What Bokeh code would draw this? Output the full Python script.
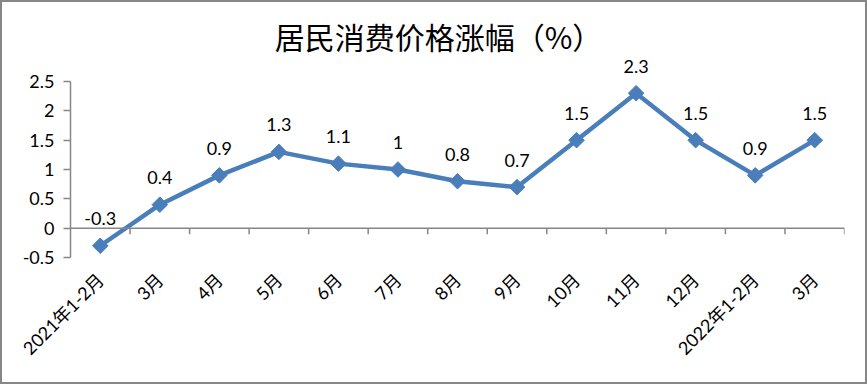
import math
from bokeh.plotting import figure
from bokeh.models import Range1d, FixedTicker, Span, Label, ColumnDataSource
from bokeh.core.properties import value
from bokeh.embed import file_html
from bokeh.resources import INLINE

title_text = "居民消费价格涨幅（%）"
categories = ["2021年1-2月", "3月", "4月", "5月", "6月", "7月", "8月", "9月",
              "10月", "11月", "12月", "2022年1-2月", "3月"]
values = [-0.3, 0.4, 0.9, 1.3, 1.1, 1, 0.8, 0.7, 1.5, 2.3, 1.5, 0.9, 1.5]
value_labels = ["-0.3", "0.4", "0.9", "1.3", "1.1", "1", "0.8", "0.7", "1.5", "2.3", "1.5", "0.9", "1.5"]
y_ticks = [-0.5, 0, 0.5, 1, 1.5, 2, 2.5]
y_tick_labels = ["-0.5", "0", "0.5", "1", "1.5", "2", "2.5"]

LINE_COLOR = "#4A7EBB"
AXIS_COLOR = "#868686"
LATIN = "Lato, Noto Sans CJK SC"

B = 2                      # css border; the canvas starts B px inside it
W, H = 867, 384
PLOT_L, PLOT_R, PLOT_T, PLOT_B = 70 - B, 844 - B, 81 - B, 257 - B   # axis box inside the canvas
TOP = 4
n = len(categories)
ymin, ymax = y_ticks[0], y_ticks[-1]
upp = (ymax - ymin) / (PLOT_B - PLOT_T)         # data units per pixel
ytop = ymax + (PLOT_T - TOP) * upp

p = figure(width=W, height=H, output_backend="svg", toolbar_location=None,
           x_range=Range1d(0, n), y_range=Range1d(ymin, ytop),
           min_border_left=PLOT_L, min_border_right=W - PLOT_R,
           min_border_top=TOP, min_border_bottom=H - PLOT_B)
p.outline_line_color = None
p.grid.visible = False
p.background_fill_color = "white"
p.border_fill_color = "white"
p.styles = {"border": f"{B}px solid #878787", "box-sizing": "border-box"}

xs = [i + 0.5 for i in range(n)]

xa = p.xaxis[0]
xa.ticker = FixedTicker(ticks=xs)
xa.major_label_overrides = {x: c for x, c in zip(xs, categories)}
xa.major_label_orientation = math.pi / 4
xa.axis_line_color = None
xa.major_tick_line_color = None
xa.minor_tick_line_color = None
xa.major_label_standoff = 13
xa.major_label_text_font = LATIN
xa.major_label_text_font_size = "18px"
xa.major_label_text_color = "black"

ya = p.yaxis[0]
ya.ticker = FixedTicker(ticks=y_ticks)
ya.bounds = (ymin, ymax)
ya.major_label_overrides = {t: s for t, s in zip(y_ticks, y_tick_labels)}
ya.axis_line_color = AXIS_COLOR
ya.axis_line_width = 1.5
ya.major_tick_line_color = AXIS_COLOR
ya.major_tick_line_width = 1.5
ya.major_tick_out = 7
ya.major_tick_in = 0
ya.minor_tick_line_color = None
ya.major_label_standoff = 9
ya.major_label_text_font = LATIN
ya.major_label_text_font_size = "18px"
ya.major_label_text_color = "black"

p.add_layout(Span(location=0, dimension="width", line_color=AXIS_COLOR, line_width=1.5))
tick_len = 6 * upp
bounds = list(range(1, n + 1))
p.segment(x0=bounds, x1=bounds, y0=[0] * len(bounds), y1=[-tick_len] * len(bounds),
          line_color=AXIS_COLOR, line_width=1.5)

src = ColumnDataSource(dict(x=xs, y=values, lab=value_labels))
p.line("x", "y", source=src, line_color=LINE_COLOR, line_width=4.5, line_join="round")
p.scatter("x", "y", source=src, marker="square", angle=math.pi / 4, size=11,
          fill_color=LINE_COLOR, line_color=LINE_COLOR)
p.text("x", "y", text="lab", source=src, y_offset=-27, text_align="center",
       text_baseline="middle", text_font=value(LATIN), text_font_size="18px", text_color="black")

title_cx, title_cy = 438 - B, 35 - B
p.add_layout(Label(x=title_cx - PLOT_L, y=PLOT_B - title_cy, x_units="screen", y_units="screen",
                   text=title_text, text_align="center", text_baseline="middle",
                   text_font="Noto Sans CJK SC", text_font_size="30px", text_color="black"))

open("out.html", "w").write(file_html(p, INLINE))
